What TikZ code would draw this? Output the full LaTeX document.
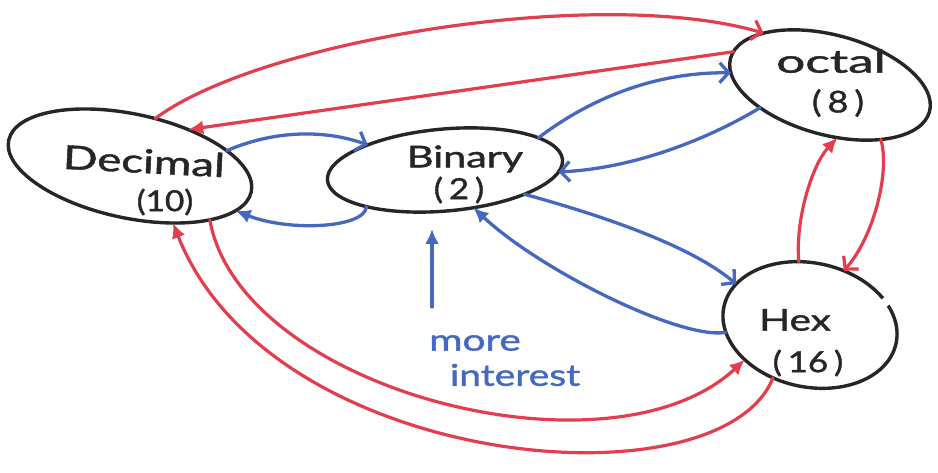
\documentclass[tikz,border=0pt]{standalone}
\usepackage{fontspec}
\setmainfont{Lato}
\newfontfamily\handfont{Lato}[FakeBold=1.2]
\usetikzlibrary{arrows.meta,shapes.geometric}
\definecolor{inkred}{RGB}{228,62,78}
\definecolor{inkblue}{RGB}{70,104,190}
\definecolor{ink}{RGB}{38,38,38}
\begin{document}
\begin{tikzpicture}[x=1pt,y=-1pt,
  bubble/.style={ellipse, draw=ink, line width=3.4pt, inner sep=0pt, outer sep=0pt},
  word/.style={text=ink, inner sep=0pt},
  note/.style={text=inkblue, inner sep=0pt, font=\handfont\fontsize{30}{30}\selectfont},
  redlink/.style={draw=inkred, line width=3.2pt, line cap=round},
  bluelink/.style={draw=inkblue, line width=3.3pt, line cap=round},
  headfill/.style={-{Latex[length=15pt,width=14pt]}},
  headopen/.style={-{Straight Barb[length=9pt,width=20pt]}},
]
\fill[white] (0,0) rectangle (938,473);
\useasboundingbox (0,0) rectangle (938,473);

% the four number systems
\node[bubble, minimum width=248pt, minimum height=104pt, rotate=-12] (dec) at (130,166) {};
\node[bubble, minimum width=236pt, minimum height=82pt, rotate=5] (bin) at (445,170) {};
\node[bubble, minimum width=206pt, minimum height=100pt, rotate=-15] (oct) at (830,85) {};
\node[bubble, minimum width=176pt, minimum height=124pt, rotate=-12] (hex) at (810,325) {};
% the Hex outline is left open at its upper right
\draw[white, line width=7pt] (hex.26) -- (hex.32);

% labels
\node[word, font=\handfont\fontsize{33}{33}\selectfont, rotate=-3] (decname) at (144,161) {\scalebox{1.38}[1]{Decimal}};
\node[word, font=\handfont\fontsize{29}{29}\selectfont] (decbase) at (165,202) {\scalebox{1.15}[1]{(10)}};
\node[word, font=\handfont\fontsize{30}{30}\selectfont] (binname) at (465,159) {\scalebox{1.38}[1]{Binary}};
\node[word, font=\handfont\fontsize{29}{29}\selectfont] (binbase) at (459,190) {\scalebox{1.2}[1]{(\,2\,)}};
\node[word, font=\handfont\fontsize{32}{32}\selectfont] (octname) at (831,61) {\scalebox{1.6}[1]{octal}};
\node[word, font=\handfont\fontsize{30}{30}\selectfont] (octbase) at (838,103) {\scalebox{1.2}[1]{(\,8\,)}};
\node[word, font=\handfont\fontsize{30}{30}\selectfont] (hexname) at (795,320) {\scalebox{1.35}[1]{Hex}};
\node[word, font=\handfont\fontsize{29}{29}\selectfont] (hexbase) at (808,363) {\scalebox{1.2}[1]{(\,16\,)}};

\node[note] (more) at (475,343) {\scalebox{1.35}[1]{more}};
\node[note] (interest) at (515,375) {\scalebox{1.3}[1]{interest}};

% red conversions
\draw[redlink, headopen] (dec.74) .. controls (260,40) and (600,-15) .. (oct.157);
\draw[redlink, headfill] (oct.176) -- (dec.44);
\draw[redlink, headfill] (hex.112) .. controls (795,220) and (812,165) .. (oct.-67);
\draw[redlink, headopen] (oct.-32) .. controls (890,170) and (875,235) .. (hex.70);
\draw[redlink, headfill] (dec.-22) .. controls (240,390) and (610,485) .. (hex.-140);
\draw[redlink, headfill] (hex.-113) .. controls (720,510) and (270,470) .. (dec.-41);

% blue conversions
\draw[bluelink, headopen] (dec.21) .. controls (270,132) and (320,128) .. (bin.157);
\draw[bluelink, headfill] (bin.200) .. controls (365,228) and (290,232) .. (dec.-11);
\draw[bluelink, headopen] (bin.14) .. controls (575,110) and (640,72) .. (oct.188);
\draw[bluelink, headopen] (oct.-147) .. controls (715,135) and (640,168) .. (bin.-6);
\draw[bluelink, headopen] (bin.-22) .. controls (600,215) and (690,245) .. (hex.163);
\draw[bluelink, headfill] (hex.197) .. controls (680,340) and (540,270) .. (bin.-58);

\coordinate (upfoot) at (432,307);
\coordinate (uptip) at (432,229);
\draw[bluelink, headfill] (upfoot) -- (uptip);
\end{tikzpicture}
\end{document}
